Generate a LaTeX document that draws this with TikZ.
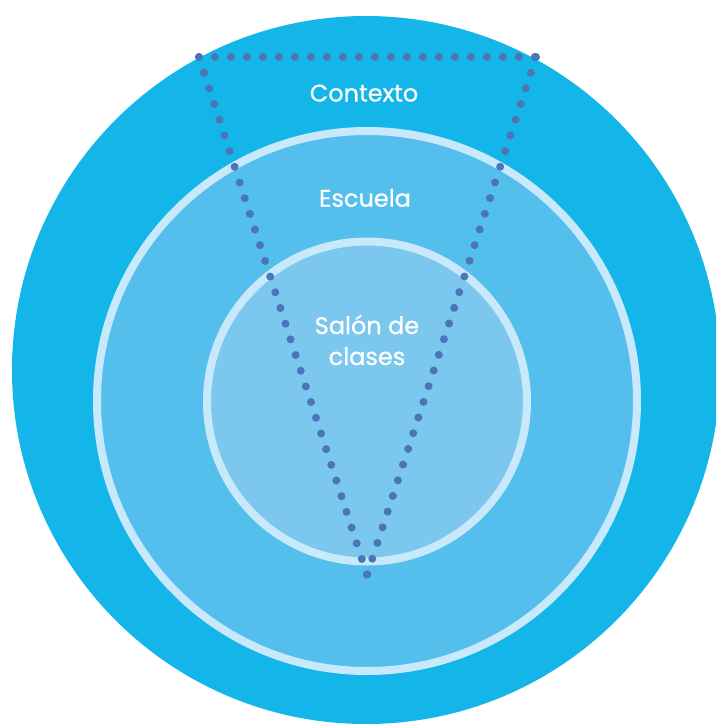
\documentclass[tikz,border=0pt]{standalone}
\usepackage{fontspec}
\setmainfont{Poppins}
\definecolor{outerc}{HTML}{14B5E9}
\definecolor{midc}{HTML}{54BEED}
\definecolor{innerc}{HTML}{7BC7EE}
\definecolor{ringc}{HTML}{C8E9FA}
\definecolor{dotc}{HTML}{4C74B9}
\tikzset{
  ringcircle/.style={draw=ringc, line width=8pt},
  dotline/.style={draw=dotc, line width=8pt, line cap=round},
  label/.style={text=white, font=\fontsize{24}{31}\selectfont\addfontfeature{FakeBold=0.8}, align=center, inner sep=0pt, anchor=base}
}
\begin{document}
\begin{tikzpicture}[x=1pt,y=-1pt]
\useasboundingbox (0,0) rectangle (716,724);
\clip (0,0) rectangle (716,724);
\fill[outerc] (366,370) circle[radius=354];
\path[fill=midc, ringcircle] (367,401) circle[radius=270];
\path[fill=innerc, ringcircle] (367,401.5) circle[radius=160];
\coordinate (A) at (199,57);
\coordinate (B) at (536,57);
\coordinate (C) at (367,575);
\draw[dotline, dash pattern=on 0pt off 15.99pt] (A) -- (B);
\draw[dotline, dash pattern=on 0pt off 16.49pt] (A) -- (C);
\draw[dotline, dash pattern=on 0pt off 16.49pt] (B) -- (C);
\node[label] (contexto) at (364,101.5) {Contexto};
\node[label] (escuela) at (365,206.7) {Escuela};
\node[label] (salon) at (367,334) {Salón de};
\node[label] (clases) at (367,365) {clases};
\end{tikzpicture}
\end{document}
